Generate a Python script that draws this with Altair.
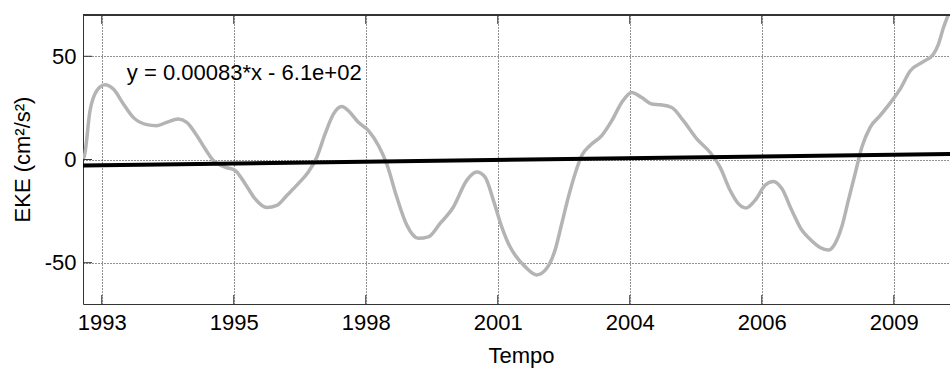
import altair as alt
import pandas as pd

# ---- data (x in MATLAB datenum days, y in cm^2/s^2) ----
eke_t = [727858, 727866, 727911, 727962, 728025, 728088, 728164, 728239, 728341,
         728417, 728492, 728580, 728644, 728720, 728783, 728845, 728934, 729010,
         729086, 729161, 729250, 729326, 729402, 729489, 729565, 729629, 729692,
         729755, 729818, 729881, 729944, 730020, 730096, 730159, 730235, 730311,
         730399, 730474, 730563, 730664, 730765, 730841, 730904, 730967, 731030,
         731093, 731131, 731207, 731296, 731371, 731434, 731485, 731535, 731586,
         731636, 731699, 731788, 731864, 731939, 732015, 732091, 732167, 732230,
         732318, 732406, 732508, 732608, 732684, 732760, 732823, 732881, 732949,
         733025, 733088, 733152, 733227, 733303, 733366, 733442, 733505, 733555,
         733606, 733656, 733707, 733758, 733821, 733896, 733985, 734048, 734124,
         734224, 734300, 734338, 734376, 734414]
eke_v = [0.5, 1.1, 23.6, 33.3, 36.2, 34.1, 26.9, 20.4, 16.9,
         16.4, 18.0, 19.6, 18.0, 11.6, 5.2, -0.5, -3.7, -5.3,
         -11.7, -19.0, -23.3, -22.2, -17.4, -11.7, -6.1, 1.1, 12.4,
         22.0, 25.7, 22.8, 18.0, 14.0, 6.8, -2.1, -18.2, -31.8,
         -38.2, -37.5, -31.0, -23.0, -10.1, -6.1, -8.5, -19.8, -32.6,
         -42.3, -46.3, -51.9, -55.9, -52.7, -43.9, -31.0, -18.2, -6.9,
         1.9, 6.8, 11.6, 18.8, 27.6, 32.5, 30.0, 26.9, 26.5,
         25.2, 18.8, 10.0, 3.5, -3.7, -14.9, -21.4, -23.5, -19.8,
         -12.5, -10.6, -14.1, -24.6, -34.2, -38.6, -42.6, -43.9, -40.7,
         -32.6, -19.8, -6.9, 5.9, 15.6, 21.2, 28.4, 34.1, 42.9,
         47.4, 51.0, 55.8, 63.8, 70.3]

fit_t = [727858, 734426]
fit_v = [-2.9, 2.7]

x_ticks = [728000, 729000, 730000, 731000, 732000, 733000, 734000]
x_labels = ["1993", "1995", "1998", "2001", "2004", "2006", "2009"]
y_ticks = [-50, 0, 50]

note_t = [728190]
note_v = [38.6]
note_text = ["y = 0.00083*x - 6.1e+02"]

X_DOMAIN = [727858, 734426]
Y_DOMAIN = [-70, 70]
W, H = 867, 289
FONT = "Liberation Sans"
FS = 22
AX = "#333333"
GRID = "#222222"

eke_df = pd.DataFrame({"t": eke_t, "v": eke_v})
fit_df = pd.DataFrame({"t": fit_t, "v": fit_v})
xt_df = pd.DataFrame({"t": x_ticks})
yt_df = pd.DataFrame({"v": y_ticks})
note_df = pd.DataFrame({"t": note_t, "v": note_v, "label": note_text})

label_expr = " : ".join(
    f"datum.value == {t} ? '{l}'" for t, l in zip(x_ticks, x_labels)
) + " : ''"

xs = alt.Scale(domain=X_DOMAIN, nice=False, zero=False)
ys = alt.Scale(domain=Y_DOMAIN, nice=False, zero=False)

x_axis = alt.Axis(
    values=x_ticks, labelExpr=label_expr, title="Tempo",
    grid=True, gridDash=[1, 2], gridColor=GRID, gridWidth=1,
    ticks=False, tickSize=0, domain=True, domainColor=AX, domainWidth=1,
    labelFont=FONT, labelFontSize=FS, labelColor="black", labelPadding=8,
    titleFont=FONT, titleFontSize=FS, titleFontWeight="normal", titleColor="black",
    titleX=438, titleY=58, titleBaseline="alphabetic", titleAlign="center",
)
y_axis = alt.Axis(
    values=y_ticks, labelExpr="datum.value + ''", title="EKE (cm²/s²)",
    grid=True, gridDash=[1, 2], gridColor=GRID, gridWidth=1,
    ticks=False, tickSize=0, domain=True, domainColor=AX, domainWidth=1,
    labelFont=FONT, labelFontSize=FS, labelColor="black", labelPadding=7,
    titleFont=FONT, titleFontSize=FS, titleFontWeight="normal", titleColor="black",
    titleX=-54, titleY=144, titleBaseline="alphabetic", titleAlign="center", titleAngle=270,
)

eke = alt.Chart(eke_df).mark_line(
    color="#b4b4b4", strokeWidth=3.5, clip=True, interpolate="monotone"
).encode(
    x=alt.X("t:Q", scale=xs, axis=x_axis),
    y=alt.Y("v:Q", scale=ys, axis=y_axis),
)

fit = alt.Chart(fit_df).mark_line(color="black", strokeWidth=4, clip=True).encode(
    x=alt.X("t:Q", scale=xs),
    y=alt.Y("v:Q", scale=ys),
)

xt_bottom = alt.Chart(xt_df).mark_rule(color=AX, strokeWidth=1).encode(
    x=alt.X("t:Q", scale=xs), y=alt.value(H), y2=alt.value(H - 9)
)
xt_top = alt.Chart(xt_df).mark_rule(color=AX, strokeWidth=1).encode(
    x=alt.X("t:Q", scale=xs), y=alt.value(0), y2=alt.value(9)
)
yt_left = alt.Chart(yt_df).mark_rule(color=AX, strokeWidth=1).encode(
    y=alt.Y("v:Q", scale=ys), x=alt.value(0), x2=alt.value(9)
)
top_border = alt.Chart(xt_df).mark_rule(color=AX, strokeWidth=1).encode(
    x=alt.value(0), x2=alt.value(W), y=alt.value(0)
)

note = alt.Chart(note_df).mark_text(
    align="left", baseline="alphabetic", font=FONT, fontSize=FS, color="black"
).encode(
    x=alt.X("t:Q", scale=xs), y=alt.Y("v:Q", scale=ys), text="label:N"
)

chart = alt.layer(eke, fit, xt_bottom, xt_top, yt_left, top_border, note).properties(
    width=W, height=H,
    autosize=alt.AutoSizeParams(type="none"),
    padding={"left": 83, "top": 15, "right": 0, "bottom": 66},
    background="white",
).configure_view(stroke=None)

chart.save("out.html", embed_options={"renderer": "svg", "actions": False})
